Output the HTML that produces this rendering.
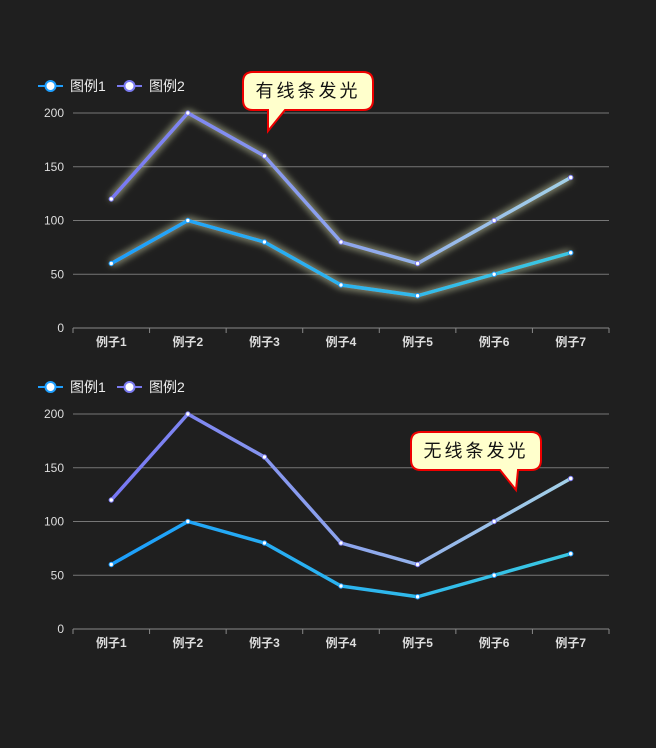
<!DOCTYPE html>
<html><head><meta charset="utf-8"><style>
html,body{margin:0;padding:0;background:#1f1f1f;}
svg{display:block;font-family:"Liberation Sans","Noto Sans CJK SC",sans-serif;}
</style></head><body>
<svg id="s" width="656" height="748">
<defs>
<linearGradient id="g1" gradientUnits="userSpaceOnUse" x1="73" y1="0" x2="609" y2="0"><stop offset="0" stop-color="#1a9cff"/><stop offset="1" stop-color="#3dcbe0"/></linearGradient>
<linearGradient id="g2" gradientUnits="userSpaceOnUse" x1="73" y1="0" x2="609" y2="0"><stop offset="0" stop-color="#7470f5"/><stop offset="1" stop-color="#a6d8e6"/></linearGradient>
<filter id="glow" x="-20%" y="-50%" width="140%" height="200%"><feGaussianBlur in="SourceGraphic" stdDeviation="4" result="b"/><feFlood flood-color="#eef5c0" flood-opacity="0.6"/><feComposite in2="b" operator="in" result="c"/><feMerge><feMergeNode in="c"/><feMergeNode in="c"/><feMergeNode in="SourceGraphic"/></feMerge></filter>
</defs>
</svg>
<script>
const categories=["例子1","例子2","例子3","例子4","例子5","例子6","例子7"];
const series1=[60,100,80,40,30,50,70];
const series2=[120,200,160,80,60,100,140];
const yTicks=[0,50,100,150,200];
const legendNames=["图例1","图例2"];
const NS="http://www.w3.org/2000/svg";
const svg=document.getElementById('s');
function mk(t,a,p){const e=document.createElementNS(NS,t);for(const k in a)e.setAttribute(k,a[k]);(p||svg).appendChild(e);return e;}
const X0=73,X1=609,bw=(X1-X0)/categories.length;
function xs(i){return X0+bw*(i+0.5);}
function drawChart(top,zero,glow,idx,callout,calloutBox){
  const g=mk('g',{});
  
  
  const ys=v=>zero-(v/200)*(zero-top);
  yTicks.forEach(t=>{
    const l=mk('line',{x1:X0,x2:X1,y1:ys(t),y2:ys(t),stroke:t===0?'#888':'#777','stroke-width':1},g);
    
    
    const tx=mk('text',{x:64,y:ys(t)+4,'text-anchor':'end','font-size':12,fill:'#ddd'},g);
    tx.textContent=t;
    
    
  });
  for(let i=0;i<=categories.length;i++){mk('line',{x1:X0+bw*i,x2:X0+bw*i,y1:zero,y2:zero+5,stroke:'#888'},g);}
  categories.forEach((c,i)=>{
    const t=mk('text',{x:xs(i),y:zero+18,'text-anchor':'middle','font-size':12,'font-weight':'bold',fill:'#ddd'},g);
    t.textContent=c;
    
    
  });
  [[series2,'url(#g2)','#7a7af0'],[series1,'url(#g1)','#1e9fff']].forEach(([d,col,pc],si)=>{
    const p=mk('polyline',{points:d.map((v,i)=>xs(i)+','+ys(v)).join(' '),fill:'none',stroke:col,'stroke-width':3.5,'stroke-linejoin':'round'},g);
    if(glow)p.setAttribute('filter','url(#glow)');
    
    
    d.forEach((v,i)=>{const c=mk('circle',{cx:xs(i),cy:ys(v),r:2.2,fill:'#fff',stroke:pc,'stroke-width':1},g);
      
      });
  });
  const ly=top-27;
  [['#1e9fff',38],['#7a7af0',117]].forEach(([c,x],i)=>{
    const lg=mk('g',{},g);
    
    
    mk('line',{x1:x,x2:x+25,y1:ly,y2:ly,stroke:c,'stroke-width':2},lg);
    mk('circle',{cx:x+12.5,cy:ly,r:5,fill:'#fff',stroke:c,'stroke-width':2},lg);
    const t=mk('text',{x:x+32,y:ly+5,'font-size':14,fill:'#eee'},lg);t.textContent=legendNames[i];
  });
  const [bx,by,tx1,tx2,tipx,tipy]=calloutBox,w=130,h=38,r=10;
  const cg=mk('g',{},g);
  
  
  const d=`M${bx+r},${by} H${bx+w-r} Q${bx+w},${by} ${bx+w},${by+r} V${by+h-r} Q${bx+w},${by+h} ${bx+w-r},${by+h} H${tx2} L${tipx},${tipy} L${tx1},${by+h} H${bx+r} Q${bx},${by+h} ${bx},${by+h-r} V${by+r} Q${bx},${by} ${bx+r},${by} Z`;
  mk('path',{d:d,fill:'#ffffcc',stroke:'#e00',"stroke-width":2},cg);
  const ct=mk('text',{x:bx+w/2,y:by+25,'text-anchor':'middle','font-size':18,fill:'#111','letter-spacing':3},cg);
  ct.textContent=callout;
}
drawChart(113,328,true,1,'有线条发光',[243,72,268,285,268,131]);
drawChart(414,629,false,2,'无线条发光',[411,432,500,518,516,490]);
</script>
</body></html>
